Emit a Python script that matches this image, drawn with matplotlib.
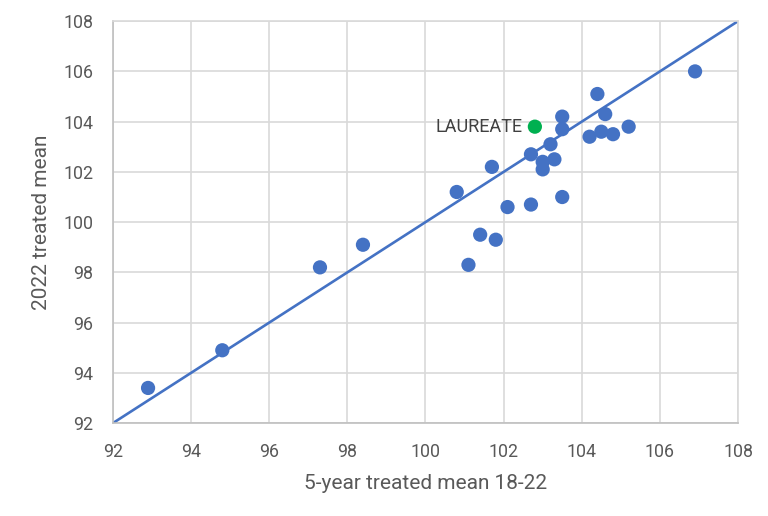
import matplotlib
matplotlib.use("Agg")
import matplotlib.pyplot as plt

# ---------- DATA ----------
five_year_mean = [92.9, 94.8, 97.3, 98.4, 100.8, 101.1, 101.4, 101.7, 101.8, 102.1,
                  102.7, 102.7, 103.0, 103.0, 103.2, 103.3, 103.5, 103.5, 103.5,
                  104.2, 104.4, 104.5, 104.6, 104.8, 105.2, 106.9]
mean_2022 = [93.4, 94.9, 98.2, 99.1, 101.2, 98.3, 99.5, 102.2, 99.3, 100.6,
             102.7, 100.7, 102.4, 102.1, 103.1, 102.5, 104.2, 103.7, 101.0,
             103.4, 105.1, 103.6, 104.3, 103.5, 103.8, 106.0]
laureate_x = 102.8
laureate_y = 103.8
laureate_label = "LAUREATE"
ticks = [92, 94, 96, 98, 100, 102, 104, 106, 108]
# ---------------------------

plt.rcParams["font.family"] = ["Roboto", "DejaVu Sans"]
TEXT = "#595959"
BLUE = "#4472C4"

fig = plt.figure(figsize=(7.68, 5.16), dpi=100)
ax = fig.add_axes([0.147, 0.180, 0.814, 0.779])

ax.plot([ticks[0], ticks[-1]], [ticks[0], ticks[-1]], color=BLUE, linewidth=1.9, zorder=2)
ax.scatter(five_year_mean, mean_2022, s=105, color=BLUE, edgecolors="none", zorder=3)
ax.scatter([laureate_x], [laureate_y], s=105, color="#00B050", edgecolors="none", zorder=4)
ax.annotate(laureate_label, (laureate_x, laureate_y), xytext=(-9, 0),
            textcoords="offset points", ha="right", va="center",
            fontsize=13, color="#404040")

ax.set_xlim(ticks[0], ticks[-1])
ax.set_ylim(ticks[0], ticks[-1])
ax.set_xticks(ticks)
ax.set_yticks(ticks)
ax.grid(True, color="#D9D9D9", linewidth=1.2)
ax.set_axisbelow(True)
for side in ["top", "right"]:
    ax.spines[side].set_color("#D9D9D9")
    ax.spines[side].set_linewidth(1.2)
for side in ["left", "bottom"]:
    ax.spines[side].set_color("#BFBFBF")
    ax.spines[side].set_linewidth(1.2)
ax.tick_params(length=0, labelsize=12.8, colors=TEXT)
ax.tick_params(axis="x", pad=14)
ax.tick_params(axis="y", pad=14)

ax.set_xlabel("5-year treated mean 18-22", fontsize=15, color=TEXT, labelpad=10)
ax.set_ylabel("2022 treated mean", fontsize=15, color=TEXT, labelpad=9)

fig.savefig("out.png", dpi=100, facecolor="white")
